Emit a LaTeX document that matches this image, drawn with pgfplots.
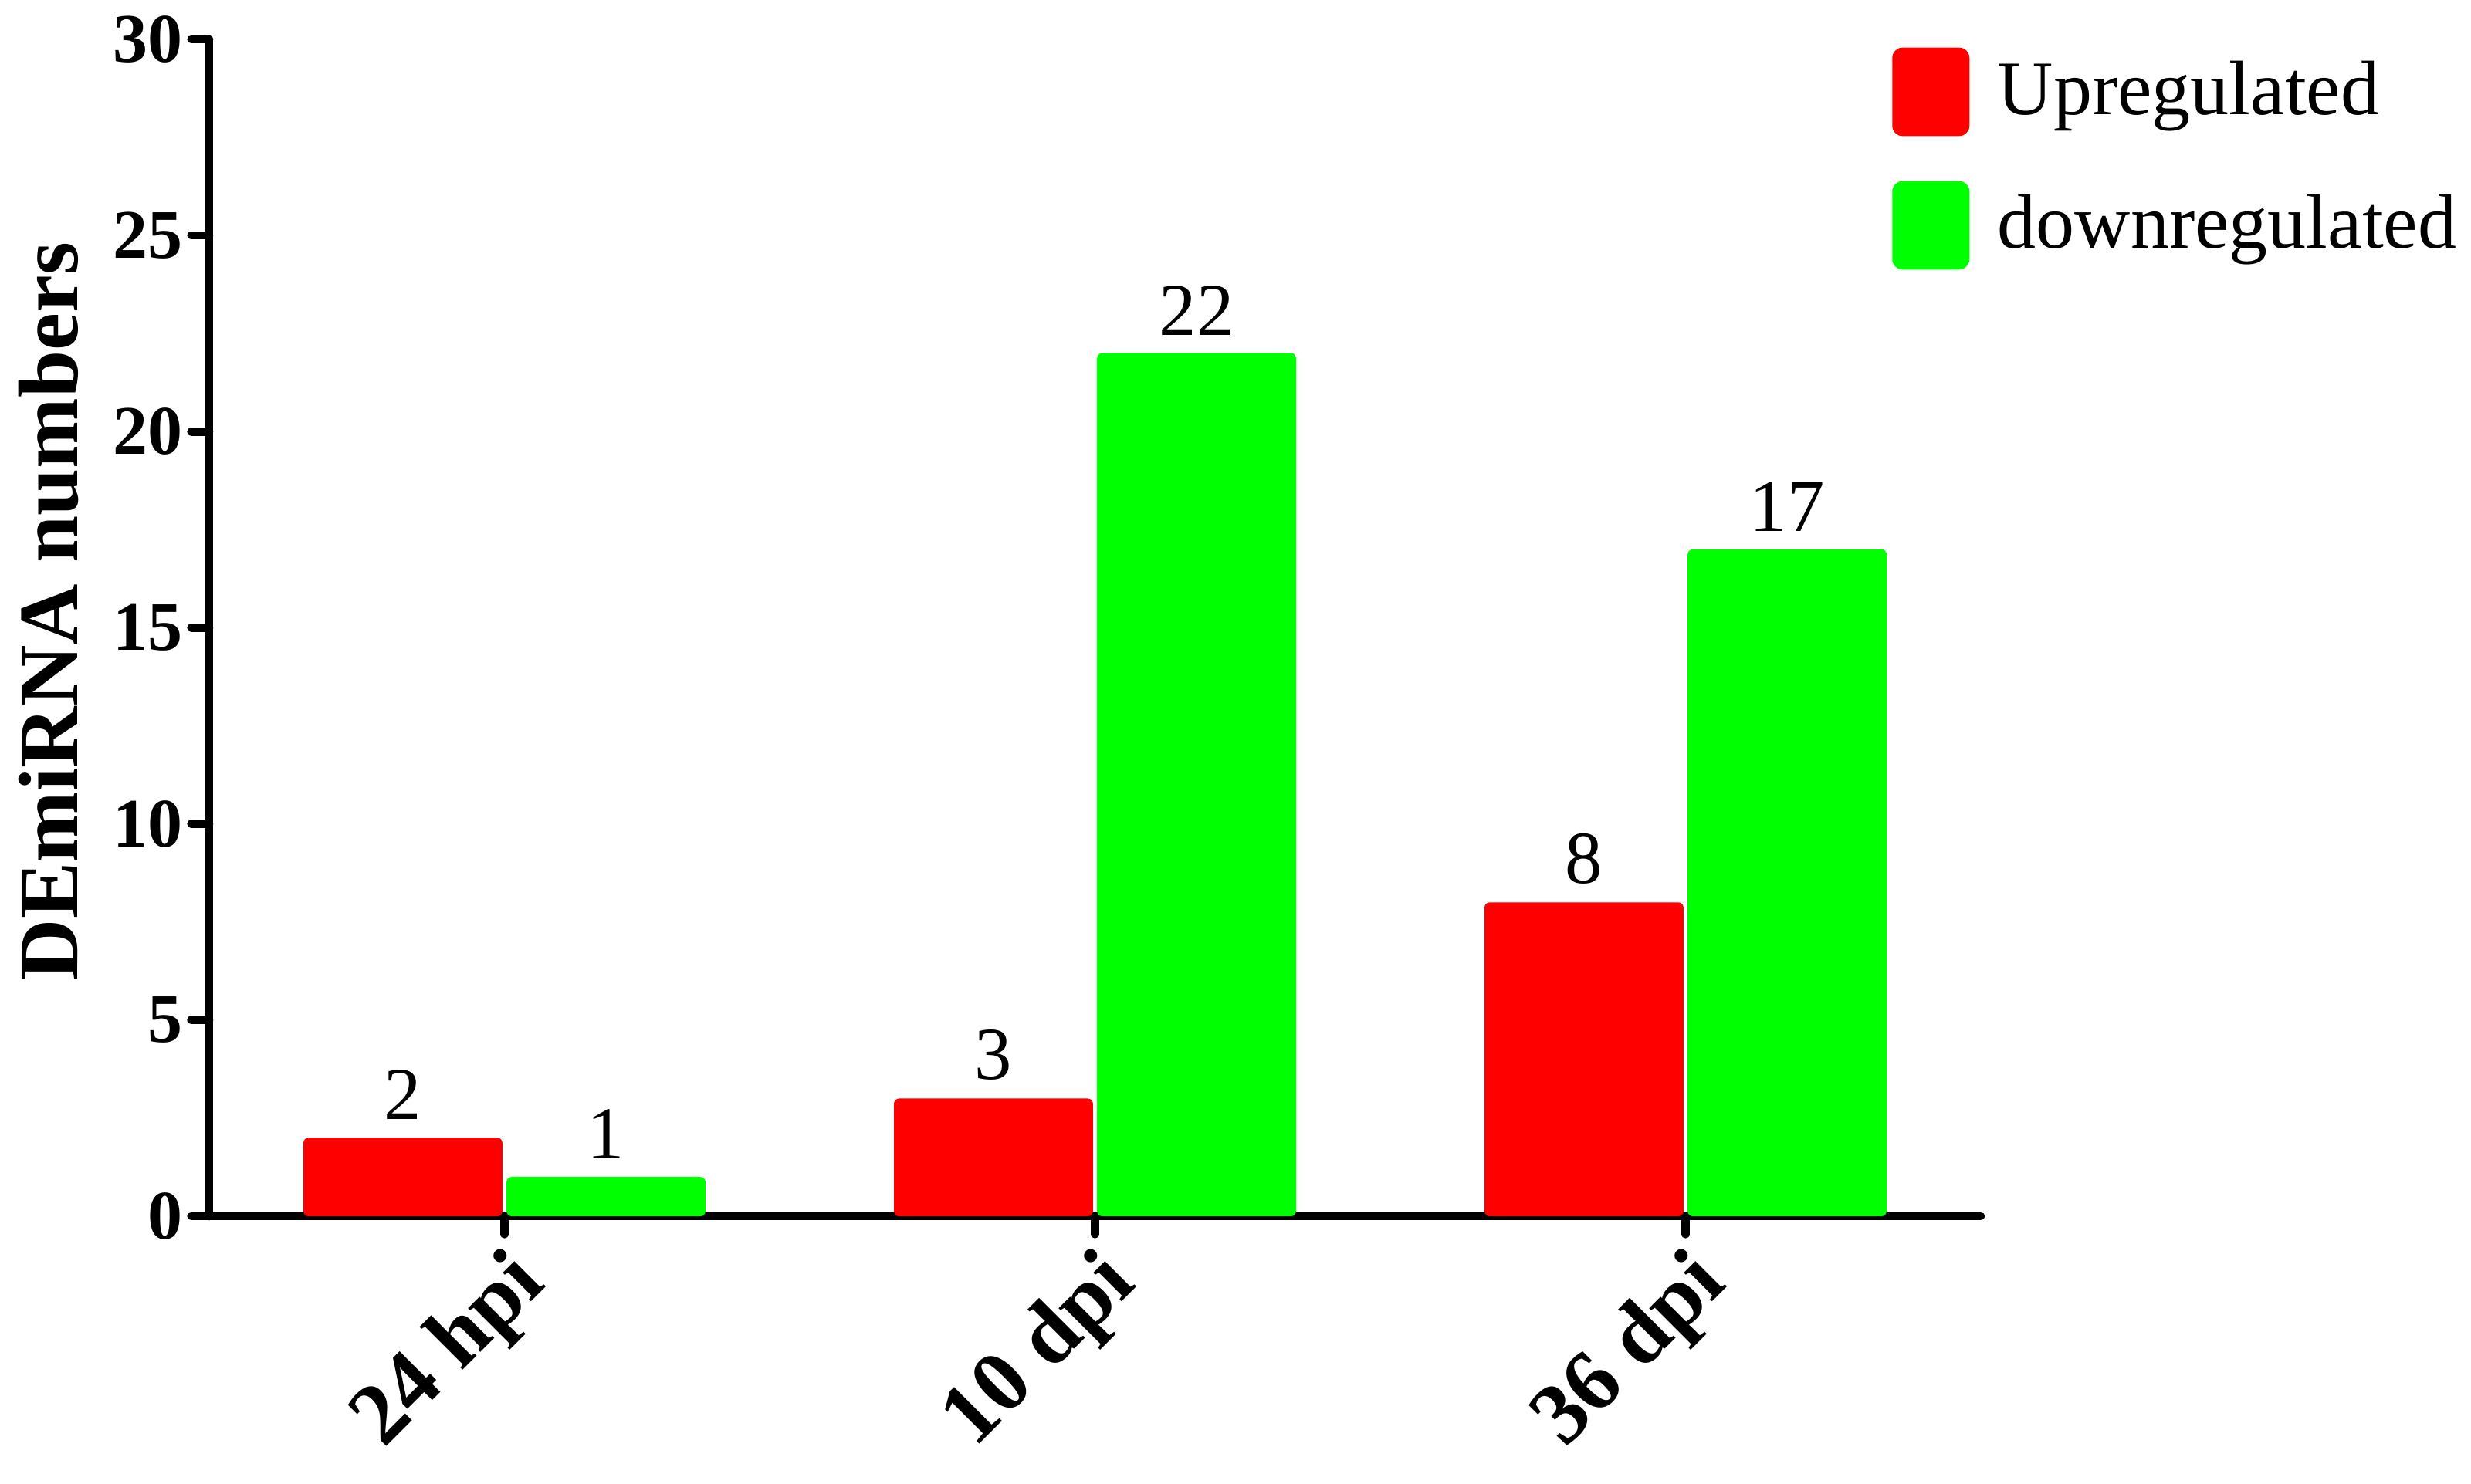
\documentclass[border=0pt]{standalone}
\usepackage{fontspec}
\setmainfont{Liberation Serif}
\usepackage{pgfplots}
\pgfplotsset{compat=1.18}
\definecolor{upred}{RGB}{255,0,0}
\definecolor{downgreen}{RGB}{0,255,0}
\begin{document}
\begin{tikzpicture}
\begin{axis}[
  name=ax,
  scale only axis,
  width=344.25pt, height=228.75pt,
  xmin=-0.5, xmax=2.5, ymin=0, ymax=30,
  axis lines=left,
  axis line style={-, line width=1.6pt, line cap=round, black},
  ybar,
  bar width=0.337,
  every axis plot post/.append style={legend image code/.code={\fill[##1, rounded corners=2pt] (0pt,-8.6pt) rectangle (15pt,8.6pt);}},
  /pgf/number format/assume math mode=true,
  xtick={0,1,2},
  xticklabels={24 hpi,10 dpi,36 dpi},
  ytick={0,5,10,15,20,25,30},
  tick align=outside,
  major tick length=3.5pt,
  tick style={line width=1.6pt, line cap=round, black},
  yticklabel style={font=\bfseries\fontsize{13.5}{13.5}\selectfont, inner sep=1.5pt},
  xticklabel style={font=\bfseries\fontsize{17}{17}\selectfont, rotate=45, anchor=north east, inner sep=1pt},
  ylabel={DEmiRNA numbers},
  ylabel style={font=\bfseries\fontsize{16.5}{16.5}\selectfont, at={(rel axis cs:-0.0906,0.514)}, anchor=center},
  nodes near coords,
  nodes near coords style={font=\fontsize{14.5}{14.5}\selectfont, text=black},
  legend style={draw=none, fill=none, at={(rel axis cs:0.950,0.993)}, anchor=north west,
    inner sep=0pt, outer sep=0pt, row sep=8.75pt, column sep=5.5pt,
    nodes={inner sep=0pt, anchor=west}, font=\fontsize{15}{15}\selectfont},
  legend cell align=left,
]
\addplot[fill=upred, draw=none, bar shift=-0.172, rounded corners=1pt] coordinates {(0,2) (1,3) (2,8)};
\addlegendentry{Upregulated}
\addplot[fill=downgreen, draw=none, bar shift=0.172, rounded corners=1pt] coordinates {(0,1) (1,22) (2,17)};
\addlegendentry{downregulated}
\end{axis}
\pgfresetboundingbox
\path ([shift={(-40.65pt,-51.9pt)}]ax.south west) rectangle ([shift={(95.25pt,7.65pt)}]ax.north east);
\end{tikzpicture}
\end{document}
